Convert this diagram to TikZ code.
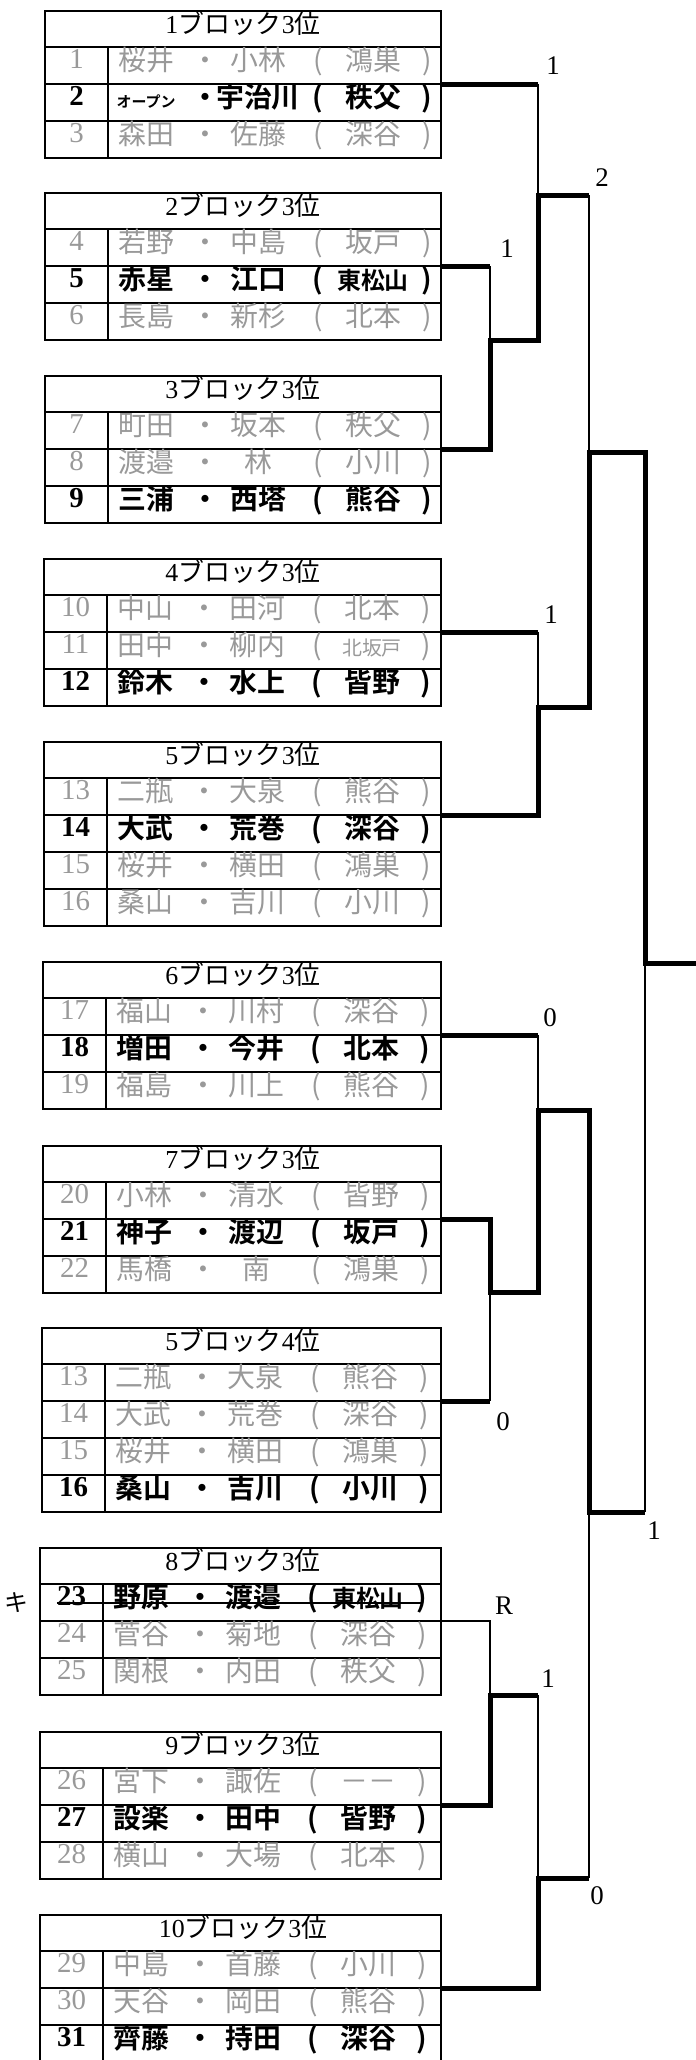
\documentclass[tikz,border=0pt]{standalone}
\usepackage{fontspec}
\setmainfont{Liberation Serif}
\newfontfamily\jp{Noto Sans CJK JP}[BoldFont={Noto Sans CJK JP Bold}]
\usetikzlibrary{calc}

% header text: serif digits, Japanese words
\newcommand{\blk}[2]{{\rmfamily #1}ブロック{\rmfamily #2}位}

% one block: frame, header, row lines, number column
\newcommand{\drawblock}[5]{%
  \xdef\blkleft{#2}\xdef\blktop{#3}
  \pgfmathsetmacro{\blkbot}{#3+36+37*#4}
  \draw[frame] (#2,#3) rectangle (441,\blkbot);
  \draw[frame] (#2,#3+36) -- (441,#3+36);
  \foreach \i in {2,...,#4} {\draw[rowline] (#2,#3+37*\i-1) -- (441,#3+37*\i-1);}
  \draw[colline] (#2+63,#3+36) -- (#2+63,\blkbot);
  \node[hdtxt] (#1h) at (243,#3+18) {#5};
  \coordinate (#1) at (441,#3+73);
}

% one pair: number, name, name, club
\newcommand{\teamrow}[7][lose]{%
  \pgfmathsetmacro{\ry}{\blktop+36+37*#3-18.5}
  \pgfmathsetmacro{\rx}{\blkleft}
  \node[#1num] (#2n) at (\rx+31.5,\ry) {#4};
  \node[#1] (#2a) at (\rx+101,\ry) {#5};
  \node[#1] (#2d) at (\rx+160,\ry) {・};
  \node[#1] (#2b) at (\rx+213,\ry) {#6};
  \node[#1] (#2p) at (\rx+273,\ry) {(};
  \node[#1] (#2c) at (\rx+328,\ry) {#7};
  \node[#1] (#2q) at (\rx+382,\ry) {)};
}

\begin{document}
\begin{tikzpicture}[x=1bp,y=-1bp,line join=miter,
  frame/.style={line width=2.6bp},
  rowline/.style={line width=1.4bp},
  colline/.style={line width=2.2bp},
  hdtxt/.style={font=\jp\fontsize{26}{26}\selectfont,inner sep=0pt,text height=.94em,text depth=0pt},
  win/.style={font=\jp\bfseries\fontsize{28}{28}\selectfont,inner sep=0pt,text height=.96em,text depth=0pt},
  lose/.style={win,font=\jp\fontsize{28}{28}\selectfont,text=black!40},
  winnum/.style={font=\bfseries\fontsize{29}{29}\selectfont,inner sep=0pt,text height=.66em,text depth=0pt},
  losenum/.style={winnum,font=\fontsize{29}{29}\selectfont,text=black!40},
  winline/.style={line width=5bp},
  loseline/.style={line width=1.5bp},
  score/.style={font=\fontsize{27}{27}\selectfont,inner sep=0pt}]
\useasboundingbox (0,0) rectangle (696,2060);
\clip (0,0) rectangle (696,2060);

\drawblock{b1}{45}{11}{3}{\blk{1}{3}}
\teamrow{r1}{1}{1}{桜井}{小林}{鴻巣}
\teamrow[win]{r2}{2}{2}{{\fontsize{15}{15}\selectfont オープン}}{宇治川}{秩父}
\teamrow{r3}{3}{3}{森田}{佐藤}{深谷}

\drawblock{b2}{45}{193}{3}{\blk{2}{3}}
\teamrow{r4}{1}{4}{若野}{中島}{坂戸}
\teamrow[win]{r5}{2}{5}{赤星}{江口}{{\fontsize{24}{24}\selectfont 東松山}}
\teamrow{r6}{3}{6}{長島}{新杉}{北本}

\drawblock{b3}{45}{376}{3}{\blk{3}{3}}
\teamrow{r7}{1}{7}{町田}{坂本}{秩父}
\teamrow{r8}{2}{8}{渡邉}{林}{小川}
\teamrow[win]{r9}{3}{9}{三浦}{西塔}{熊谷}

\drawblock{b4}{44}{559}{3}{\blk{4}{3}}
\teamrow{r10}{1}{10}{中山}{田河}{北本}
\teamrow{r11}{2}{11}{田中}{柳内}{{\fontsize{20}{20}\selectfont 北坂戸}}
\teamrow[win]{r12}{3}{12}{鈴木}{水上}{皆野}

\drawblock{b5}{44}{742}{4}{\blk{5}{3}}
\teamrow{r13}{1}{13}{二瓶}{大泉}{熊谷}
\teamrow[win]{r14}{2}{14}{大武}{荒巻}{深谷}
\teamrow{r15}{3}{15}{桜井}{横田}{鴻巣}
\teamrow{r16}{4}{16}{桑山}{吉川}{小川}

\drawblock{b6}{43}{962}{3}{\blk{6}{3}}
\teamrow{r17}{1}{17}{福山}{川村}{深谷}
\teamrow[win]{r18}{2}{18}{増田}{今井}{北本}
\teamrow{r19}{3}{19}{福島}{川上}{熊谷}

\drawblock{b7}{43}{1146}{3}{\blk{7}{3}}
\teamrow{r20}{1}{20}{小林}{清水}{皆野}
\teamrow[win]{r21}{2}{21}{神子}{渡辺}{坂戸}
\teamrow{r22}{3}{22}{馬橋}{南}{鴻巣}

\drawblock{b54}{42}{1328}{4}{\blk{5}{4}}
\teamrow{s13}{1}{13}{二瓶}{大泉}{熊谷}
\teamrow{s14}{2}{14}{大武}{荒巻}{深谷}
\teamrow{s15}{3}{15}{桜井}{横田}{鴻巣}
\teamrow[win]{s16}{4}{16}{桑山}{吉川}{小川}

\drawblock{b8}{40}{1548}{3}{\blk{8}{3}}
\teamrow[win]{r23}{1}{23}{野原}{渡邉}{{\fontsize{24}{24}\selectfont 東松山}}
\teamrow{r24}{2}{24}{菅谷}{菊地}{深谷}
\teamrow{r25}{3}{25}{関根}{内田}{秩父}
\draw[line width=2bp] (r23n.west) -- (r23q.center);
\node[font=\jp\fontsize{24}{24}\selectfont,inner sep=0pt] (kiken) at (16,1603) {キ};

\drawblock{b9}{40}{1732}{3}{\blk{9}{3}}
\teamrow{r26}{1}{26}{宮下}{諏佐}{－－}
\teamrow[win]{r27}{2}{27}{設楽}{田中}{皆野}
\teamrow{r28}{3}{28}{横山}{大場}{北本}

\drawblock{b10}{40}{1915}{3}{\blk{10}{3}}
\teamrow{r29}{1}{29}{中島}{首藤}{小川}
\teamrow{r30}{2}{30}{天谷}{岡田}{熊谷}
\teamrow[win]{r31}{3}{31}{齊藤}{持田}{深谷}

% bracket points
\coordinate (m1) at (490,340);
\coordinate (m2) at (538,195);
\coordinate (m3) at (538,707);
\coordinate (m4) at (589,452);
\coordinate (fin) at (645,963);
\coordinate (out) at (696,963);
\coordinate (m5) at (538,1110);
\coordinate (m6) at (490,1292);
\coordinate (m7) at (589,1512);
\coordinate (m8) at (490,1695);
\coordinate (m9) at (538,1878);

% upper half
\draw[winline] (b1) -- (b1 -| m2);
\draw[loseline] (b1 -| m2) -- (m2);
\draw[winline] (b2) -- (b2 -| m1);
\draw[loseline] (b2 -| m1) -- (m1);
\draw[winline] (b3) -| (m1) -| (m2) -- (m2 -| m4);
\draw[loseline] (m2 -| m4) -- (m4);
\draw[winline] (b4) -- (b4 -| m3);
\draw[loseline] (b4 -| m3) -- (m3);
\draw[winline] (b5) -| (m3) -| (m4) -| (fin) -- (out);

% lower half
\draw[winline] (b6) -- (b6 -| m5);
\draw[loseline] (b6 -| m5) -- (m5);
\draw[winline] (b7) -| (m6) -| (m5) -| (m7) -- (m7 -| fin);
\draw[winline] (b54) -- (b54 -| m6);
\draw[loseline] (b54 -| m6) -- (m6);
\draw[loseline] (fin) -- (m7 -| fin);
\draw[loseline] (b8) -| (m8);
\draw[winline] (b9) -| (m8) -- (m8 -| m9);
\draw[loseline] (m8 -| m9) -- (m9);
\draw[winline] (b10) -| (m9) -- (m9 -| m7);
\draw[loseline] (m9 -| m7) -- (m7);

\node[score] (s1) at (553,66) {1};
\node[score] (s2) at (602,178) {2};
\node[score] (s3) at (507,249) {1};
\node[score] (s4) at (551,615) {1};
\node[score] (s5) at (550,1018) {0};
\node[score] (s6) at (503,1422) {0};
\node[score] (s7) at (654,1531) {1};
\node[score] (s8) at (504,1606) {R};
\node[score] (s9) at (548,1679) {1};
\node[score] (s10) at (597,1896) {0};

\end{tikzpicture}
\end{document}
